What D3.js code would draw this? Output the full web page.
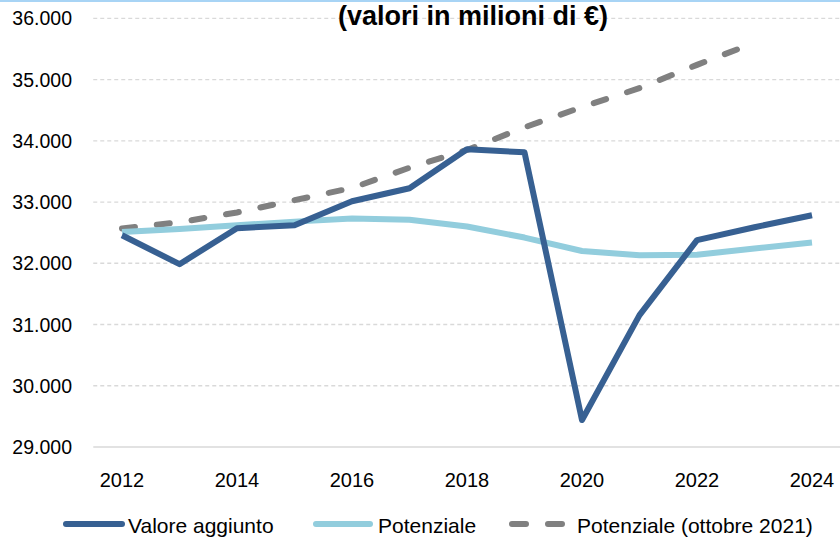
<!DOCTYPE html>
<meta charset="utf-8">
<script src="https://d3js.org/d3.v7.min.js"></script>
<style>
  body { margin: 0; background: #fff; }
  svg { display: block; }
</style>
<div id="my_dataviz"></div>
<script>

// data
var years = [2012, 2013, 2014, 2015, 2016, 2017, 2018, 2019, 2020, 2021, 2022, 2023, 2024];
var valoreAggiunto = [32458, 31985, 32573, 32622, 33013, 33225, 33861, 33812, 29440, 31153, 32377, 32589, 32785];
var potenziale = [32510, 32560, 32620, 32680, 32730, 32710, 32600, 32420, 32200, 32130, 32140, 32240, 32340];
var yearsOtt = [2012, 2013, 2014, 2015, 2016, 2017, 2018, 2019, 2020, 2021, 2022, 2023];
var potenzialeOtt = [32570, 32670, 32830, 33030, 33230, 33560, 33850, 34220, 34550, 34860, 35240, 35600];
var yTicks = [29000, 30000, 31000, 32000, 33000, 34000, 35000, 36000];
var xTicks = [2012, 2014, 2016, 2018, 2020, 2022, 2024];
var seriesNames = ["Valore aggiunto", "Potenziale", "Potenziale (ottobre 2021)"];
var title = "(valori in milioni di €)";

var width = 840, height = 538;

var it = d3.formatLocale({decimal: ",", thousands: ".", grouping: [3], currency: ["", "€"]});
var fmt = it.format(",.0f");

var svg = d3.select("#my_dataviz")
  .append("svg")
    .attr("width", width)
    .attr("height", height);

// x: category axis, 2012 .. 2024
var x = d3.scaleLinear()
  .domain([2011.5, 2024.5])
  .range([93.25, 840.75]);

var y = d3.scaleLinear()
  .domain([29000, 36000])
  .range([447, 18.3]);

// grid lines
svg.append("g")
  .selectAll("line")
  .data(yTicks)
  .enter()
  .append("line")
    .attr("x1", x(2011.5))
    .attr("x2", x(2024.5))
    .attr("y1", function(d) { return y(d); })
    .attr("y2", function(d) { return y(d); })
    .attr("stroke", "#d9d9d9")
    .attr("stroke-width", 1.3)
    .attr("stroke-dasharray", function(d) { return d == 29000 ? null : "4,3"; });

// y labels
svg.append("g")
  .selectAll("text")
  .data(yTicks)
  .enter()
  .append("text")
    .attr("x", 72)
    .attr("y", function(d) { return y(d); })
    .attr("dy", "0.36em")
    .attr("text-anchor", "end")
    .style("font-family", "'Liberation Sans', Arial, sans-serif")
    .style("font-size", "19.5px")
    .attr("fill", "#000")
    .text(function(d) { return fmt(d); });

// x labels
svg.append("g")
  .selectAll("text")
  .data(xTicks)
  .enter()
  .append("text")
    .attr("x", function(d) { return x(d); })
    .attr("y", 487)
    .attr("text-anchor", "middle")
    .style("font-family", "'Liberation Sans', Arial, sans-serif")
    .style("font-size", "20px")
    .attr("fill", "#000")
    .text(function(d) { return d; });

var line = d3.line()
  .x(function(d) { return x(d[0]); })
  .y(function(d) { return y(d[1]); });

// Potenziale (ottobre 2021)
svg.append("path")
  .datum(d3.zip(yearsOtt, potenzialeOtt))
  .attr("d", line)
  .attr("fill", "none")
  .attr("stroke", "#808080")
  .attr("stroke-width", 6)
  .attr("stroke-linecap", "round")
  .attr("stroke-dasharray", "13,22");

// Potenziale
svg.append("path")
  .datum(d3.zip(years, potenziale))
  .attr("d", line)
  .attr("fill", "none")
  .attr("stroke", "#92cddd")
  .attr("stroke-width", 6)
  .attr("stroke-linejoin", "round");

// Valore aggiunto
svg.append("path")
  .datum(d3.zip(years, valoreAggiunto))
  .attr("d", line)
  .attr("fill", "none")
  .attr("stroke", "#376092")
  .attr("stroke-width", 6)
  .attr("stroke-linejoin", "round");

// title (cut at the top like the original)
svg.append("text")
  .attr("x", 473)
  .attr("y", 25)
  .attr("text-anchor", "middle")
  .style("font-family", "'Liberation Sans', Arial, sans-serif")
  .style("font-weight", "bold")
  .style("font-size", "27px")
  .attr("fill", "#000")
  .text(title);

// thin blue frame line at the top
svg.append("rect")
  .attr("x", 0).attr("y", 0)
  .attr("width", width).attr("height", 2)
  .attr("fill", "#a8d4f5");

// legend
var legend = [
  {x1: 66, x2: 122, tx: 128, color: "#376092", dash: null},
  {x1: 316, x2: 370, tx: 378, color: "#92cddd", dash: null},
  {x1: 512, x2: 565, tx: 577, color: "#808080", dash: "14,22"}
];
var lg = svg.append("g")
  .selectAll("g")
  .data(legend)
  .enter()
  .append("g");
lg.append("line")
  .attr("x1", function(d) { return d.x1; })
  .attr("x2", function(d) { return d.x2; })
  .attr("y1", 524)
  .attr("y2", 524)
  .attr("stroke", function(d) { return d.color; })
  .attr("stroke-width", 6)
  .attr("stroke-linecap", "round")
  .attr("stroke-dasharray", function(d) { return d.dash; });
lg.append("text")
  .attr("x", function(d) { return d.tx; })
  .attr("y", 533)
  .style("font-family", "'Liberation Sans', Arial, sans-serif")
  .style("font-size", "21px")
  .attr("fill", "#000")
  .text(function(d, i) { return seriesNames[i]; });

</script>
